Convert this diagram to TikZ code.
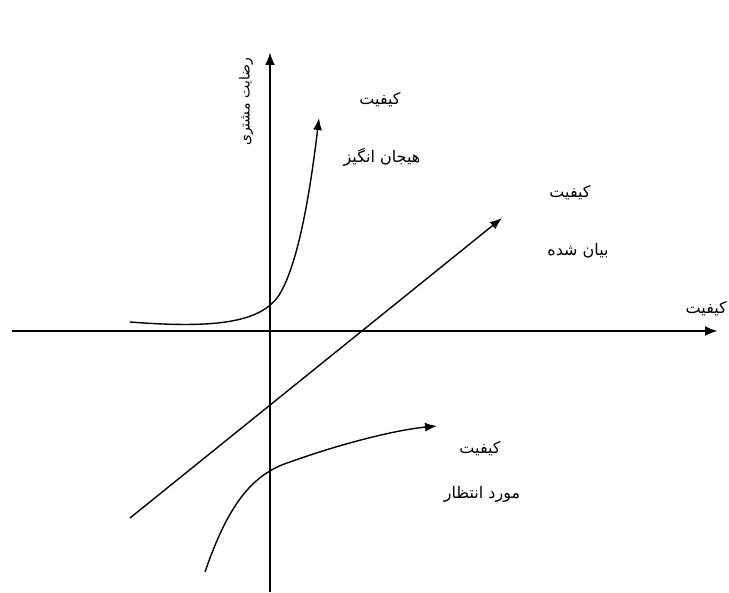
\documentclass[tikz,border=0pt]{standalone}
\usepackage{fontspec}
\newfontfamily\arabicfont[Script=Arabic]{DejaVu Sans}
\TeXXeTstate=1
\usetikzlibrary{arrows.meta}
\tikzset{
  axis/.style={line width=2.8pt,-{Latex[length=13pt,width=10pt]}},
  curve/.style={line width=1.4pt,-{Latex[length=12pt,width=9pt]}},
  lbl/.style={font=\arabicfont\fontsize{16}{18}\selectfont,inner sep=1pt}
}
\begin{document}
\begin{tikzpicture}[x=1pt,y=-1pt]
\useasboundingbox (0,0) rectangle (729,593);
\coordinate (xs) at (12,331);
\coordinate (xe) at (718,331);
\coordinate (ys) at (270,592);
\coordinate (ye) at (270,52);
\draw[axis] (xs) -- (xe);
\draw[axis] (ys) -- (ye);
% excitement
\coordinate (e0) at (130,322);
\coordinate (e1) at (282,290);
\coordinate (e2) at (319,118);
\draw[curve] (e0) .. controls (220,329) and (266,322) .. (e1) .. controls (300,256) and (311,185) .. (e2);
% one-dimensional
\coordinate (l0) at (130,518);
\coordinate (l1) at (502,218);
\draw[curve] (l0) -- (l1);
% expected
\coordinate (m0) at (205,572);
\coordinate (m1) at (290,462);
\coordinate (m2) at (437,426);
\draw[curve] (m0) .. controls (228,505) and (252,474) .. (m1) .. controls (340,444) and (395,430) .. (m2);
% labels
\node[lbl] (t1a) at (380,100) {\beginR کیفیت\endR};
\node[lbl] (t1b) at (382,157) {\beginR هیجان انگیز\endR};
\node[lbl] (t2a) at (570,193) {\beginR کیفیت\endR};
\node[lbl] (t2b) at (578,251) {\beginR بیان شده\endR};
\node[lbl] (t3a) at (480,449) {\beginR کیفیت\endR};
\node[lbl] (t3b) at (482,494) {\beginR مورد انتظار\endR};
\node[lbl,anchor=east] (tx) at (728,309) {\beginR کیفیت\endR};
\node[lbl,rotate=90,font=\arabicfont\fontsize{14}{16}\selectfont] (ty) at (246,102) {\beginR رضایت مشتری\endR};
\end{tikzpicture}
\end{document}
